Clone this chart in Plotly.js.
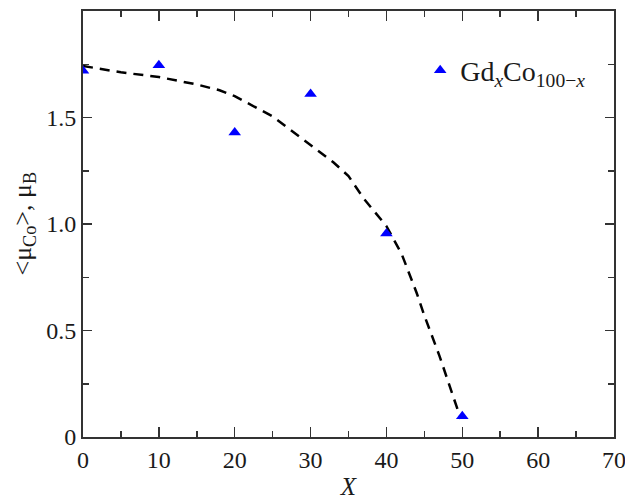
<!DOCTYPE html>
<html>
<head>
<meta charset="utf-8">
<script src="https://cdn.plot.ly/plotly-3.0.1.min.js"></script>
<style>
  html, body { margin: 0; padding: 0; background: #fff; }
  #chart { width: 625px; height: 502px; }
</style>
</head>
<body>
<div id="chart"></div>
<script>
// Measured mean Co moment in Gd_xCo_(100-x)
const compX = [0, 10, 20, 30, 40, 50];
const muCo = [1.72, 1.745, 1.43, 1.61, 0.955, 0.098];

// Guide-to-the-eye curve
const curveX = [0, 5, 10, 15, 18, 20, 25, 30, 33, 35, 37, 40, 42, 44, 45, 47, 49.8];
const curveY = [1.742, 1.712, 1.69, 1.655, 1.628, 1.60, 1.505, 1.37, 1.29, 1.225, 1.12, 0.99, 0.86, 0.675, 0.57, 0.38, 0.085];

const xTicks = [0, 10, 20, 30, 40, 50, 60, 70];
const yTicks = [0, 0.5, 1.0, 1.5];
const yTickText = ['0', '0.5', '1.0', '1.5'];

const serif = 'Liberation Serif';
const axisColor = '#333333';
const textColor = '#1a1a1a';

const traces = [
  {
    x: curveX, y: curveY,
    mode: 'lines',
    line: { color: '#000000', width: 2.5, dash: '10px,7px' },
    showlegend: false,
    hoverinfo: 'skip'
  },
  {
    x: compX, y: muCo,
    mode: 'markers',
    name: 'Gd<sub><i>x</i></sub>Co<sub>100\u2212<i>x</i></sub>',
    marker: { symbol: 'triangle-up', size: 11, color: '#0000ff' }
  }
];

const layout = {
  width: 625, height: 502,
  margin: { l: 83, r: 11, t: 11, b: 65 },
  paper_bgcolor: '#ffffff',
  plot_bgcolor: '#ffffff',
  font: { family: serif, size: 24, color: textColor },
  showlegend: true,
  legend: {
    x: 0.635, y: 0.86, xanchor: 'left', yanchor: 'middle',
    bgcolor: 'rgba(0,0,0,0)', borderwidth: 0,
    font: { family: serif, size: 28, color: textColor }
  },
  xaxis: {
    range: [0, 70],
    tickvals: xTicks,
    ticklabeloverflow: 'allow',
    ticks: 'inside', ticklen: 10, tickwidth: 1.5, tickcolor: axisColor,
    minor: { dtick: 5, ticks: 'inside', ticklen: 6, tickwidth: 1.5, tickcolor: axisColor },
    showline: true, linecolor: axisColor, linewidth: 2, mirror: 'ticks',
    showgrid: false, zeroline: false,
    tickfont: { family: serif, size: 24, color: textColor },
    title: { text: '<i>X</i>', font: { family: serif, size: 25, color: textColor }, standoff: 6 }
  },
  yaxis: {
    range: [0, 2],
    tickvals: yTicks, ticktext: yTickText,
    ticks: 'inside', ticklen: 9, tickwidth: 1.5, tickcolor: axisColor,
    minor: { dtick: 0.25, ticks: 'inside', ticklen: 6, tickwidth: 1.5, tickcolor: axisColor },
    showline: true, linecolor: axisColor, linewidth: 2, mirror: 'ticks',
    showgrid: false, zeroline: false,
    tickfont: { family: serif, size: 24, color: textColor }
  },
  // y-axis title, placed as a rotated annotation for exact positioning
  annotations: [{
    text: '&lt;\u03bc<sub>Co</sub>&gt;, \u03bc<sub>B</sub>',
    xref: 'paper', yref: 'paper',
    x: -0.112, y: 0.5, xanchor: 'center', yanchor: 'middle',
    textangle: -90, showarrow: false,
    font: { family: serif, size: 26, color: textColor }
  }]
};

Plotly.newPlot('chart', traces, layout, { displayModeBar: false, staticPlot: true });
</script>
</body>
</html>
